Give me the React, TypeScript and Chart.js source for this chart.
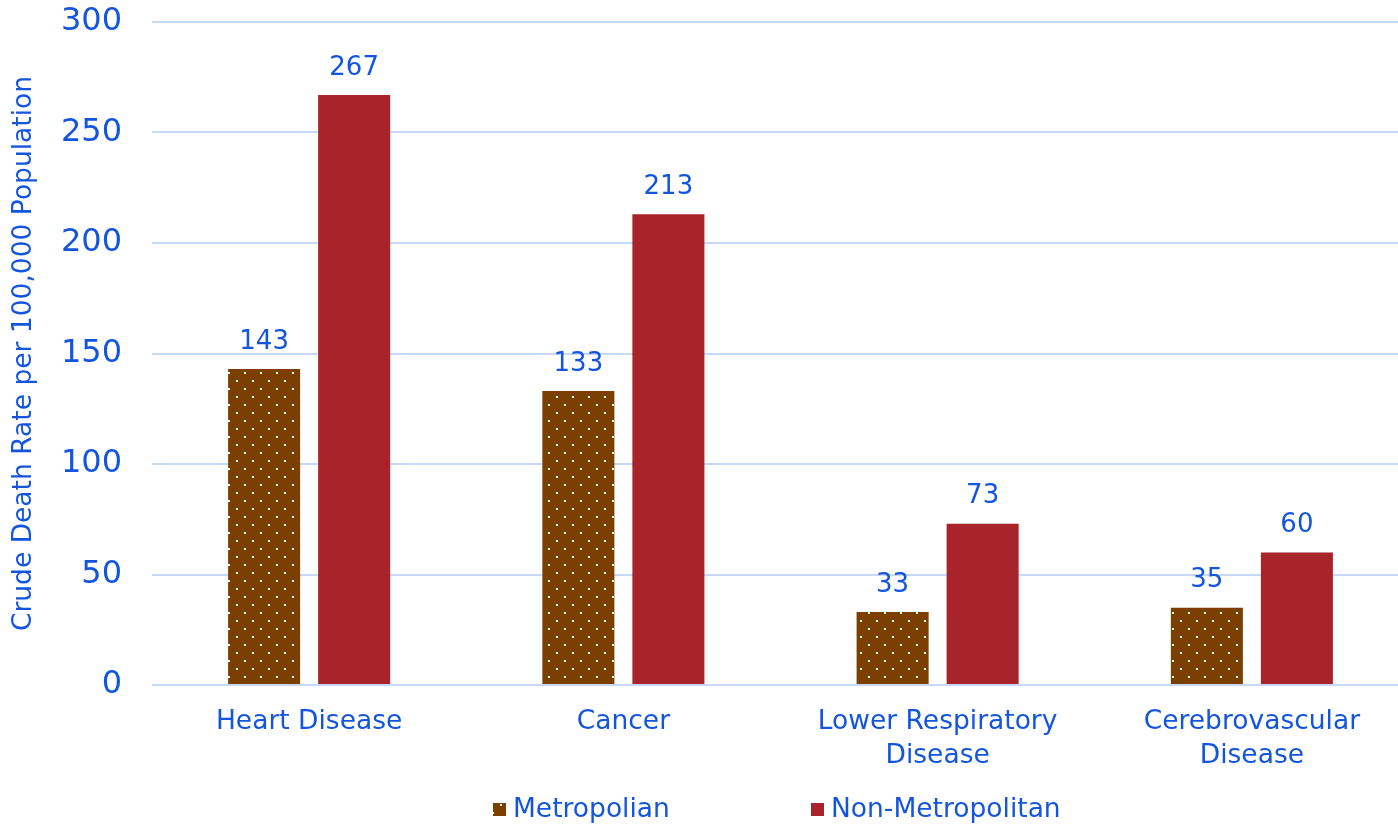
import React, { useEffect, useRef } from "react";
import { Chart, registerables } from "chart.js";

Chart.register(...registerables);

const categories: (string | string[])[] = [
  "Heart Disease",
  "Cancer",
  ["Lower Respiratory", "Disease"],
  ["Cerebrovascular", "Disease"],
];
const metroValues = [143, 133, 33, 35];
const nonMetroValues = [267, 213, 73, 60];
const seriesNames = ["Metropolian", "Non-Metropolitan"];
const yTitle = "Crude Death Rate per 100,000 Population";

const BLUE = "#1455dd";
const BROWN = "#7b3f00";
const RED = "#a8232a";
const GRID = "#c8d8f8";
const FONT = "'DejaVu Sans', Verdana, sans-serif";
const CANVAS_W = 1409;

function makePattern(ctx: CanvasRenderingContext2D): CanvasPattern | string {
  const c = document.createElement("canvas");
  c.width = 16;
  c.height = 16;
  const p = c.getContext("2d");
  if (!p) return BROWN;
  p.fillStyle = BROWN;
  p.fillRect(0, 0, 16, 16);
  p.fillStyle = "#ffffff";
  p.fillRect(4, 4, 2, 2);
  p.fillRect(12, 12, 2, 2);
  return ctx.createPattern(c, "repeat") || BROWN;
}

const valueLabels = {
  id: "valueLabels",
  afterDatasetsDraw(chart: any) {
    const ctx = chart.ctx;
    ctx.save();
    ctx.fillStyle = BLUE;
    ctx.font = `26px ${FONT}`;
    ctx.textAlign = "center";
    ctx.textBaseline = "middle";
    chart.data.datasets.forEach((ds: any, i: number) => {
      const meta = chart.getDatasetMeta(i);
      meta.data.forEach((bar: any, j: number) => {
        ctx.fillText(String(ds.data[j]), bar.x, bar.y - 27);
      });
    });
    ctx.restore();
  },
};

const customLegend = {
  id: "customLegend",
  afterDraw(chart: any) {
    const ctx = chart.ctx;
    const boxX = [493, 811];
    ctx.save();
    ctx.font = `26.5px ${FONT}`;
    ctx.textBaseline = "alphabetic";
    ctx.textAlign = "left";
    chart.data.datasets.forEach((ds: any, i: number) => {
      ctx.fillStyle = ds.backgroundColor;
      ctx.fillRect(boxX[i], 803, 13, 13);
      ctx.fillStyle = BLUE;
      ctx.fillText(ds.label, boxX[i] + 20, 817);
    });
    ctx.restore();
  },
};

export default function App() {
  const ref = useRef<HTMLCanvasElement>(null);
  useEffect(() => {
    const canvas = ref.current;
    if (!canvas) return;
    const ctx = canvas.getContext("2d")!;
    const pattern = makePattern(ctx);
    const chart = new Chart(canvas, {
      type: "bar",
      data: {
        labels: categories as any,
        datasets: [
          {
            label: seriesNames[0],
            data: metroValues,
            backgroundColor: pattern as any,
            barPercentage: 0.8,
            categoryPercentage: 0.573,
          },
          {
            label: seriesNames[1],
            data: nonMetroValues,
            backgroundColor: RED,
            barPercentage: 0.8,
            categoryPercentage: 0.573,
          },
        ],
      },
      options: {
        responsive: false,
        animation: false,
        layout: { padding: { top: 22, bottom: 50, left: 0, right: 0 } },
        plugins: {
          legend: { display: false },
          tooltip: { enabled: false },
        },
        scales: {
          x: {
            grid: { display: false },
            border: { display: false },
            ticks: {
              color: BLUE,
              font: { family: FONT, size: 26.5, lineHeight: 1.25 },
              padding: 13,
              maxRotation: 0,
              autoSkip: false,
            },
            afterFit(scale: any) {
              scale.height = 826 - 685 - 50;
              scale.paddingLeft = 0;
              scale.paddingRight = 0;
            },
          },
          y: {
            min: 0,
            max: 300,
            ticks: {
              stepSize: 50,
              color: BLUE,
              font: { family: FONT, size: 32 },
              padding: 30,
            },
            grid: { color: GRID, lineWidth: 2, drawTicks: false },
            border: { display: false },
            title: {
              display: true,
              text: yTitle,
              color: BLUE,
              font: { family: FONT, size: 26.5 },
              padding: { top: 8, bottom: 0 },
            },
            afterFit(scale: any) {
              scale.width = 152;
              scale.paddingTop = 0;
              scale.paddingBottom = 0;
            },
          },
        },
      },
      plugins: [valueLabels, customLegend],
    });
    return () => chart.destroy();
  }, []);
  return (
    <div style={{ position: "fixed", left: 0, top: 0, width: 1398, height: 826, overflow: "hidden", background: "#fff" }}>
      <canvas ref={ref} width={CANVAS_W} height={826} style={{ width: CANVAS_W, height: 826, display: "block" }} />
    </div>
  );
}
